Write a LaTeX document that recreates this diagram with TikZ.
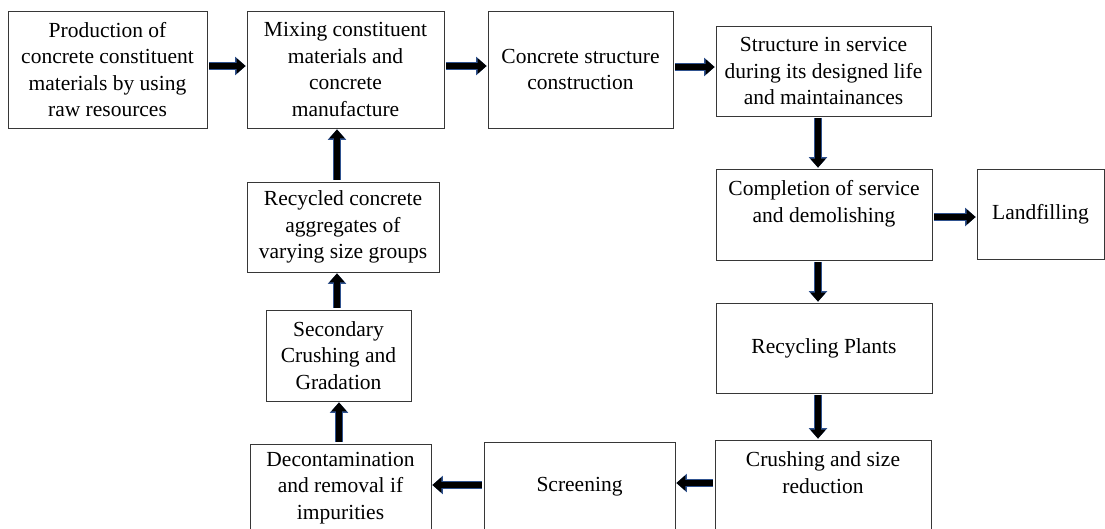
\documentclass[tikz,border=0pt]{standalone}
\usepackage{fontspec}
\setmainfont{Liberation Serif}
\usetikzlibrary{arrows.meta}
\definecolor{navyline}{RGB}{47,82,143}
\definecolor{boxline}{RGB}{55,55,55}
\newcommand{\mybox}[6]{%
  \node[box,minimum width={#4-#2},minimum height={#5-#3}] (#1) at ({(#2+#4)/2},{-(#3+#5)/2}) {#6};}
\begin{document}
\begin{tikzpicture}[x=1pt,y=1pt,
  box/.style={draw=boxline,line width=0.8pt,align=center,inner sep=0pt,
    font=\fontsize{21.5}{26.5}\selectfont},
  barrow/.style={line width=6.5pt,draw=black,-{Triangle[width=15pt,length=9pt]},
    shorten <=2pt,shorten >=1pt,
    preaction={draw=navyline,line width=8.5pt,-{Triangle[width=18pt,length=10.5pt]}}}]
\useasboundingbox (0,0) rectangle (1105,-528);
\clip (0,0) rectangle (1105,-528);
\fill[white] (0,0) rectangle (1105,-528);
\mybox{n1}{8}{11}{207}{128}{Production of\\concrete constituent\\materials by using\\raw resources}
\mybox{n2}{247}{11}{444}{128}{Mixing constituent\\materials and\\concrete\\manufacture}
\mybox{n3}{488}{11}{673}{128}{Concrete structure\\construction}
\mybox{n4}{716}{26}{931}{116}{Structure in service\\during its designed life\\and maintainances}
\mybox{n5}{716}{169}{932}{260}{Completion of service\\and demolishing\\\mbox{}}
\mybox{n6}{977}{169}{1104}{259}{Landfilling}
\mybox{n7}{716}{303}{932}{393}{Recycling Plants}
\mybox{n8}{715}{440}{931}{532}{Crushing and size\\reduction\\\mbox{}}
\mybox{n9}{484}{442}{675}{532}{Screening}
\mybox{n10}{250}{444}{431}{532}{Decontamination\\and removal if\\impurities}
\mybox{n11}{266}{310}{411}{401}{Secondary\\Crushing and\\Gradation}
\mybox{n12}{247}{182}{439}{272}{Recycled concrete\\aggregates of\\varying size groups}
\draw[barrow] (n1.east |- 0,-66) -- (n2.west |- 0,-66);
\draw[barrow] (n2.east |- 0,-66) -- (n3.west |- 0,-66);
\draw[barrow] (n3.east |- 0,-67) -- (n4.west |- 0,-67);
\draw[barrow] (n4.south -| 818,0) -- (n5.north -| 818,0);
\draw[barrow] (n5.east |- 0,-217) -- (n6.west |- 0,-217);
\draw[barrow] (n5.south -| 818,0) -- (n7.north -| 818,0);
\draw[barrow] (n7.south -| 818,0) -- (n8.north -| 818,0);
\draw[barrow] (n8.west |- 0,-483) -- (n9.east |- 0,-483);
\draw[barrow] (n9.west |- 0,-485) -- (n10.east |- 0,-485);
\draw[barrow] (n10.north -| 339,0) -- (n11.south -| 339,0);
\draw[barrow] (n11.north -| 337,0) -- (n12.south -| 337,0);
\draw[barrow] (n12.north -| 337,0) -- (n2.south -| 337,0);
\end{tikzpicture}
\end{document}
